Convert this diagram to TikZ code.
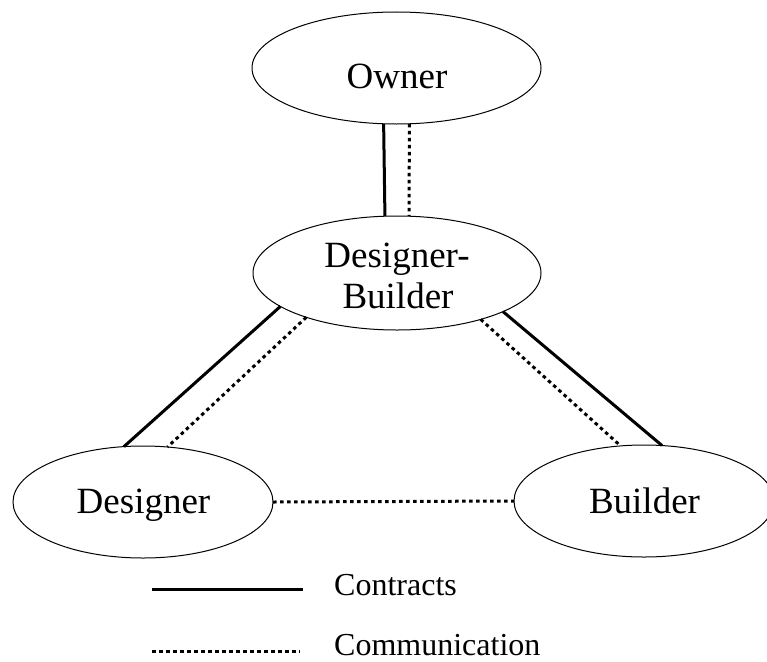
\documentclass[tikz,border=0pt]{standalone}
\usepackage{fontspec}
\setmainfont{Liberation Serif}
\usetikzlibrary{shapes.geometric}
\begin{document}
\begin{tikzpicture}[x=1pt,y=-1pt,
  party/.style={draw, ellipse, line width=1pt, inner sep=0pt, outer sep=0pt},
  partytext/.style={anchor=base, inner sep=0pt, font=\fontsize{37}{42}\selectfont},
  contract/.style={line width=3pt},
  comm/.style={line width=3pt, dash pattern=on 3.5pt off 3.5pt},
  legendtext/.style={anchor=base west, inner sep=0pt, font=\fontsize{32}{38}\selectfont}]
\useasboundingbox (0,0) rectangle (767,661);

% parties
\node[party, minimum width=289, minimum height=112] (owner) at (396.5,68) {};
\node[party, minimum width=288, minimum height=114] (db) at (397,273) {};
\node[party, minimum width=260, minimum height=112] (designer) at (143,502) {};
\node[party, minimum width=260, minimum height=112] (builder) at (644,501) {};

\node[partytext] (ownerT) at (397,88) {Owner};
\node[partytext] (dbT1) at (397,267) {Designer-};
\node[partytext] (dbT2) at (398,308) {Builder};
\node[partytext] (designerT) at (143.5,513) {Designer};
\node[partytext] (builderT) at (644.5,513) {Builder};

% relations
\draw[contract] (owner.257.9) -- (db.102.9);
\draw[comm] (owner.283.1) -- (db.78.1);
\draw[contract] (db.196.6) -- (designer.109);
\draw[comm] (db.206) -- (designer.66.4);
\draw[comm] (db.331.6) -- (builder.113.6);
\draw[contract] (db.340) -- (builder.72);
\draw[comm] (designer.east) -- (builder.west);

% legend
\coordinate (c1) at (152,589);
\coordinate (c2) at (303,589);
\draw[contract] (c1) -- (c2);
\node[legendtext] (ct) at (334,595) {Contracts};
\coordinate (m1) at (152,651);
\coordinate (m2) at (300,651);
\draw[comm] (m1) -- (m2);
\node[legendtext] (mt) at (334,655) {Communication};
\end{tikzpicture}
\end{document}
